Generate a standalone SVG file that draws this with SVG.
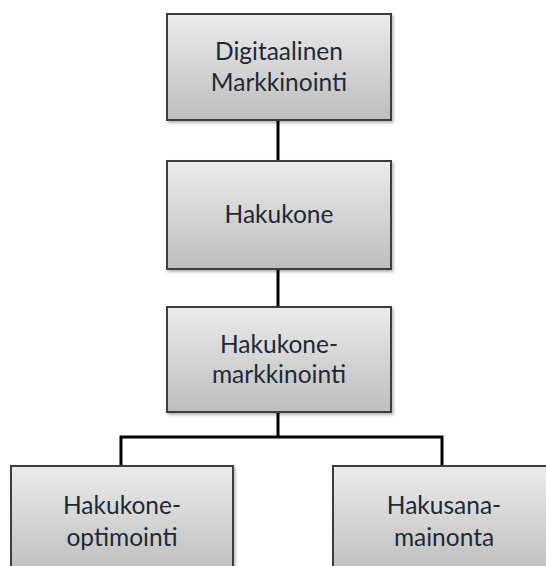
<svg xmlns="http://www.w3.org/2000/svg" width="546" height="566" viewBox="0 0 546 566">
<defs>
<linearGradient id="g" x1="0" y1="0" x2="0" y2="1">
<stop offset="0" stop-color="#ebebeb"/>
<stop offset="1" stop-color="#bdbdbd"/>
</linearGradient>
<filter id="sh" x="-5%" y="-5%" width="115%" height="115%">
<feDropShadow dx="1.5" dy="2" stdDeviation="1.5" flood-color="#000" flood-opacity="0.3"/>
</filter>
</defs>
<style>
.box{fill:url(#g);stroke:#3c3c3c;stroke-width:2;filter:url(#sh)}
.t{font-family:Lato,"Open Sans",sans-serif;font-size:24.5px;fill:#1e2a38;text-anchor:middle}
.c{stroke:#000;stroke-width:3;fill:none}
</style>
<rect width="546" height="566" fill="#fff"/>
<g id="connectors">
<line class="c" x1="278" y1="120" x2="278" y2="161"/>
<line class="c" x1="278" y1="269" x2="278" y2="307"/>
<polyline class="c" points="121,466 121,437 442,437 442,466"/>
<line class="c" x1="278" y1="412" x2="278" y2="437"/>
</g>
<g id="n1">
<rect class="box" x="167" y="14" width="224" height="106"/>
<text class="t" x="279" y="60">Digitaalinen</text>
<text class="t" x="279" y="91">Markkinointi</text>
</g>
<g id="n2">
<rect class="box" x="167" y="161" width="224" height="108"/>
<text class="t" x="279" y="223">Hakukone</text>
</g>
<g id="n3">
<rect class="box" x="167" y="307" width="224" height="105"/>
<text class="t" x="279" y="353">Hakukone-</text>
<text class="t" x="279" y="383">markkinointi</text>
</g>
<g id="n4">
<rect class="box" x="11" y="466" width="222" height="110"/>
<text class="t" x="122" y="514">Hakukone-</text>
<text class="t" x="122" y="546">optimointi</text>
</g>
<g id="n5">
<rect class="box" x="333" y="466" width="222" height="110"/>
<text class="t" x="444" y="514">Hakusana-</text>
<text class="t" x="444" y="546">mainonta</text>
</g>
</svg>
